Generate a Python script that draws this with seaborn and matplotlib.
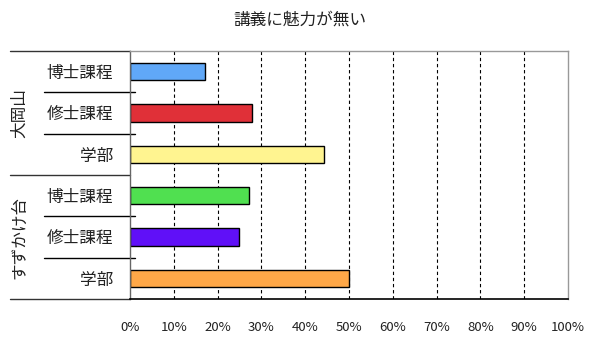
import matplotlib
matplotlib.use("Agg")
import matplotlib.pyplot as plt
import matplotlib.transforms as mtransforms
import seaborn as sns
import pandas as pd

title = "講義に魅力が無い"
groups = ["大岡山", "すずかけ台"]
categories = ["博士課程", "修士課程", "学部", "博士課程", "修士課程", "学部"]
row_ids = ["大岡山-博士課程", "大岡山-修士課程", "大岡山-学部",
           "すずかけ台-博士課程", "すずかけ台-修士課程", "すずかけ台-学部"]
values = [17.1, 27.8, 44.2, 27.2, 24.8, 50.0]
colors = ["#60A8F8", "#E03038", "#FFF490", "#50E050", "#6010F8", "#FFA848"]
xticks = [0, 10, 20, 30, 40, 50, 60, 70, 80, 90, 100]

sns.set_style("white")
plt.rcParams['font.family'] = ['Noto Sans CJK JP', 'DejaVu Sans']

df = pd.DataFrame({"id": row_ids, "value": values})

fig = plt.figure(figsize=(6.0, 3.48), dpi=100)
ax = fig.add_axes([130/600, 1-299/348, 438/600, 248/348])

sns.barplot(data=df, y="id", x="value", hue="id", palette=colors, orient="h",
            width=0.42, edgecolor="black", linewidth=1.0, legend=False, ax=ax,
            order=row_ids, hue_order=row_ids, saturation=1)

ax.set_xlim(0, 100)
ax.set_ylim(5.5, -0.5)
ax.set_xticks(xticks)
ax.set_xticklabels([f"{v}%" for v in xticks], fontsize=9.5, color="#222222")
ax.set_yticks(range(len(categories)))
ax.set_yticklabels(categories, fontsize=12, color="#222222")
ax.tick_params(axis="x", length=0, pad=16)
ax.tick_params(axis="y", length=0, pad=12)
ax.set_xlabel("")
ax.set_ylabel("")

for v in xticks[1:-1]:
    ax.axvline(v, color="black", linestyle=(0, (3, 2.5)), linewidth=0.8, zorder=0)

for side in ["top", "right"]:
    ax.spines[side].set_color("#999999")
    ax.spines[side].set_linewidth(1.0)
ax.spines["left"].set_color("#666666")
ax.spines["left"].set_linewidth(1.0)
ax.spines["bottom"].set_color("black")
ax.spines["bottom"].set_linewidth(1.2)

trans = mtransforms.blended_transform_factory(ax.transAxes, ax.transData)
# row separators within groups
for yb in [0.5, 1.5, 3.5, 4.5]:
    ax.plot([-0.196, 0.012], [yb, yb], color="black", linewidth=1.0,
            transform=trans, clip_on=False)
# group separators and outer lines
for yb in [-0.5, 2.5, 5.5]:
    ax.plot([-0.274, 0.0], [yb, yb], color="#333333", linewidth=1.0,
            transform=trans, clip_on=False)

ax.text(-0.251, 1.0, groups[0], rotation=90, ha="center", va="center",
        fontsize=12, color="#222222", transform=trans)
ax.text(-0.251, 4.0, groups[1], rotation=90, ha="center", va="center",
        fontsize=12, color="#222222", transform=trans)

fig.text(0.5, 1-20/348, title, ha="center", va="center", fontsize=12, color="#222222")

fig.savefig("out.png", dpi=100)
